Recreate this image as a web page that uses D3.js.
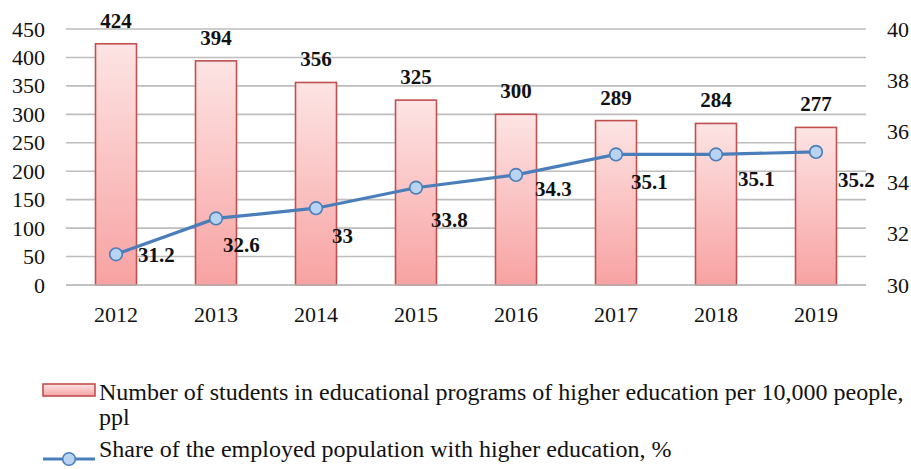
<!DOCTYPE html>
<html>
<head>
<meta charset="utf-8">
<script src="https://cdn.jsdelivr.net/npm/d3@7"></script>
<style>
    body { margin: 0; background: #fff; }
    text { font-family: "Liberation Serif", "Times New Roman", serif; fill: #111; }
</style>
</head>
<body>
<div id="chart"></div>
<script>
// chart data
var years = ["2012", "2013", "2014", "2015", "2016", "2017", "2018", "2019"];
var students = [424, 394, 356, 325, 300, 289, 284, 277];
var share = [31.2, 32.6, 33, 33.8, 34.3, 35.1, 35.1, 35.2];
var leftTicks = [0, 50, 100, 150, 200, 250, 300, 350, 400, 450];
var rightTicks = [30, 32, 34, 36, 38, 40];
var legendBars = ["Number of students in educational programs of higher education per 10,000 people,", "ppl"];
var legendLine = "Share of the employed population with higher education, %";

// label nudges for the line values (dx, dy from the point)
var lineLabelShift = [[22, 8], [7, 34], [16, 35], [15, 39], [19, 21], [15, 35], [22, 32], [22, 35]];

var width = 911, height = 469;
var plotLeft = 66, plotRight = 866, plotTop = 29, plotBottom = 285;
var serif = "Liberation Serif";

var svg = d3.select("#chart")
    .append("svg")
    .attr("width", width)
    .attr("height", height)
    .attr("font-family", serif);

var x = d3.scaleBand()
    .domain(years)
    .range([plotLeft, plotRight])
    .paddingInner(0.59)
    .paddingOuter(0.295);

var y = d3.scaleLinear().domain([0, 450]).range([plotBottom, plotTop]);
var y2 = d3.scaleLinear().domain([30, 40]).range([plotBottom, plotTop]);

var defs = svg.append("defs");
var grad = defs.append("linearGradient")
    .attr("id", "barFill")
    .attr("x1", 0).attr("y1", 0).attr("x2", 0).attr("y2", 1);
grad.append("stop").attr("offset", "0%").attr("stop-color", "#fde4e4");
grad.append("stop").attr("offset", "100%").attr("stop-color", "#f8a2a2");

// gridlines
svg.append("g")
    .selectAll("line")
    .data(leftTicks)
    .enter().append("line")
    .attr("x1", plotLeft)
    .attr("x2", plotRight)
    .attr("y1", function (d) { return y(d); })
    .attr("y2", function (d) { return y(d); })
    .style("stroke", "#bdbdbd")
    .style("stroke-width", 1.6);

// left axis
var leftAxis = svg.append("g")
    .attr("transform", "translate(" + plotLeft + ",0)")
    .call(d3.axisLeft(y).tickValues(leftTicks).tickSize(0).tickPadding(21));
leftAxis.attr("font-family", serif);
leftAxis.select(".domain").remove();
leftAxis.selectAll("text")
    .style("font-size", "22px")
    .style("fill", "#111");

// right axis
var rightAxis = svg.append("g")
    .attr("transform", "translate(" + plotRight + ",0)")
    .call(d3.axisRight(y2).tickValues(rightTicks).tickSize(0).tickPadding(21));
rightAxis.attr("font-family", serif);
rightAxis.select(".domain").remove();
rightAxis.selectAll("text")
    .style("font-size", "22px")
    .style("fill", "#111");

// bottom axis
var bottomAxis = svg.append("g")
    .attr("transform", "translate(0," + plotBottom + ")")
    .call(d3.axisBottom(x).tickSize(0).tickPadding(21));
bottomAxis.attr("font-family", serif);
bottomAxis.select(".domain").remove();
bottomAxis.selectAll("text")
    .style("font-size", "22px")
    .style("fill", "#111");

// bars
svg.append("g")
    .selectAll("rect")
    .data(students)
    .enter().append("rect")
    .attr("x", function (d, i) { return x(years[i]); })
    .attr("y", function (d) { return y(d); })
    .attr("width", x.bandwidth())
    .attr("height", function (d) { return plotBottom - y(d); })
    .style("fill", "url(#barFill)")
    .style("stroke", "#c0504d")
    .style("stroke-width", 1.6);

svg.append("line")
    .attr("x1", plotLeft).attr("x2", plotRight)
    .attr("y1", plotBottom).attr("y2", plotBottom)
    .style("stroke", "#bdbdbd")
    .style("stroke-width", 1.6);

// bar values
svg.append("g")
    .selectAll("text")
    .data(students)
    .enter().append("text")
    .attr("x", function (d, i) { return x(years[i]) + x.bandwidth() / 2; })
    .attr("y", function (d) { return y(d) - 16; })
    .attr("text-anchor", "middle")
    .style("font-size", "21px")
    .style("font-weight", "bold")
    .text(function (d) { return d; });

// line
var cx = function (i) { return x(years[i]) + x.bandwidth() / 2; };
var line = d3.line()
    .x(function (d, i) { return cx(i); })
    .y(function (d) { return y2(d); });

svg.append("path")
    .datum(share)
    .attr("d", line)
    .style("fill", "none")
    .style("stroke", "#4a7ebb")
    .style("stroke-width", 3.2);

svg.append("g")
    .selectAll("circle")
    .data(share)
    .enter().append("circle")
    .attr("cx", function (d, i) { return cx(i); })
    .attr("cy", function (d) { return y2(d); })
    .attr("r", 6.3)
    .style("fill", "#b9d3f2")
    .style("stroke", "#4a7ebb")
    .style("stroke-width", 1.6);

svg.append("g")
    .selectAll("text")
    .data(share)
    .enter().append("text")
    .attr("x", function (d, i) { return cx(i) + lineLabelShift[i][0]; })
    .attr("y", function (d, i) { return y2(d) + lineLabelShift[i][1]; })
    .style("font-size", "21px")
    .style("font-weight", "bold")
    .text(function (d) { return d; });

// legend
var legend = svg.append("g");
legend.append("rect")
    .attr("x", 43).attr("y", 384)
    .attr("width", 52).attr("height", 12)
    .style("fill", "url(#barFill)")
    .style("stroke", "#c0504d")
    .style("stroke-width", 1.6);
legend.selectAll("text.bl")
    .data(legendBars)
    .enter().append("text")
    .attr("class", "bl")
    .attr("x", 99)
    .attr("y", function (d, i) { return 400 + i * 25; })
    .style("font-size", "24px")
    .text(function (d) { return d; });

legend.append("line")
    .attr("x1", 43).attr("x2", 95)
    .attr("y1", 459).attr("y2", 459)
    .style("stroke", "#4a7ebb")
    .style("stroke-width", 3.2);
legend.append("circle")
    .attr("cx", 69).attr("cy", 459).attr("r", 6.3)
    .style("fill", "#b9d3f2")
    .style("stroke", "#4a7ebb")
    .style("stroke-width", 1.6);
legend.append("text")
    .attr("x", 99)
    .attr("y", 457)
    .style("font-size", "24px")
    .text(legendLine);
</script>
</body>
</html>
